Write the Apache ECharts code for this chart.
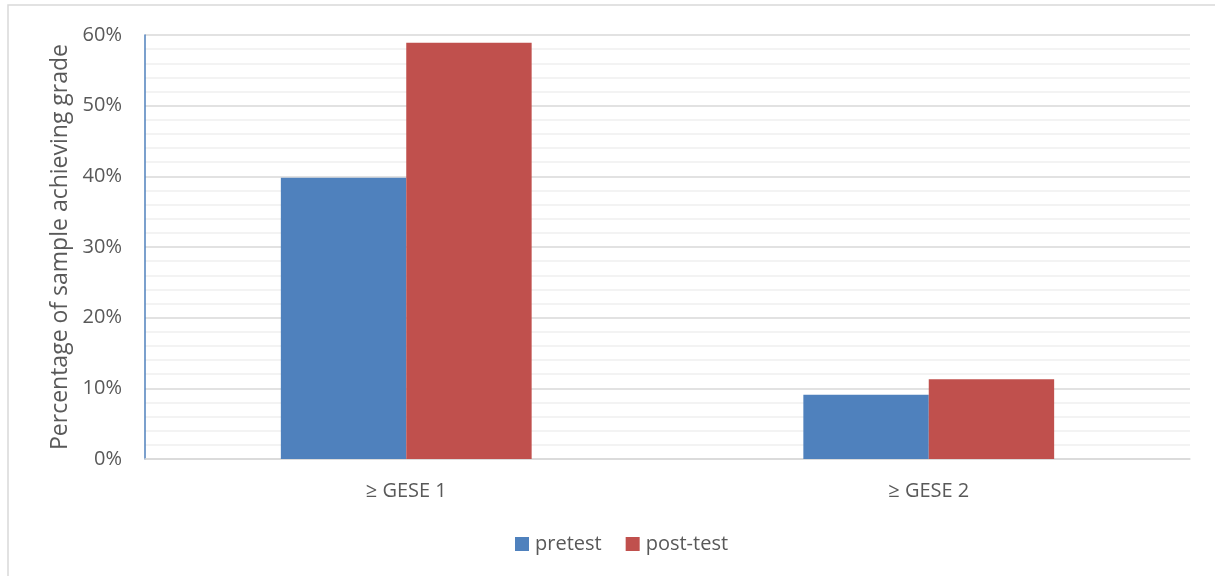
<!DOCTYPE html>
<html>
<head>
<meta charset="utf-8">
<script src="https://cdn.jsdelivr.net/npm/echarts@6/dist/echarts.min.js"></script>
<style>
html,body{margin:0;padding:0;background:#fff;}
#chart{width:1215px;height:576px;}
</style>
</head>
<body>
<div id="chart"></div>
<script>
const categories = ['≥ GESE 1', '≥ GESE 2'];
const pretest = [0.398, 0.091];
const posttest = [0.589, 0.113];
const yTicks = [0, 0.1, 0.2, 0.3, 0.4, 0.5, 0.6];

const FONT = 'Open Sans';
const chart = echarts.init(document.getElementById('chart'));
chart.setOption({
  animation: false,
  backgroundColor: '#fff',
  textStyle: { fontFamily: FONT },
  graphic: [{
    type: 'rect',
    shape: { x: 8, y: 5, width: 1220, height: 600 },
    style: { fill: 'none', stroke: '#d9d9d9', lineWidth: 1.5 },
    silent: true
  }],
  grid: { left: 145, right: 25, top: 35, bottom: 117 },
  legend: {
    bottom: 17,
    left: 510,
    itemWidth: 14, itemHeight: 14, itemGap: 24,
    icon: 'rect',
    textStyle: { fontFamily: FONT, fontSize: 20, color: '#595959', padding: [0, 0, 0, 1] },
    data: ['pretest', 'post-test']
  },
  xAxis: {
    type: 'category',
    data: categories,
    axisLine: { show: true, lineStyle: { color: '#d9d9d9', width: 1.5 } },
    axisTick: { show: false },
    axisLabel: { fontFamily: FONT, fontSize: 20, color: '#595959', margin: 22 }
  },
  yAxis: {
    type: 'value',
    min: 0, max: yTicks[yTicks.length - 1], interval: 0.1,
    name: 'Percentage of sample achieving grade',
    nameLocation: 'middle',
    nameGap: 72,
    nameTextStyle: { fontFamily: FONT, fontSize: 23, color: '#595959' },
    axisLine: { show: true, lineStyle: { color: '#4f81bd', width: 1.5 } },
    axisTick: { show: false },
    axisLabel: {
      fontFamily: FONT, fontSize: 20, color: '#595959', margin: 23,
      formatter: v => Math.round(v * 100) + '%'
    },
    splitLine: { show: true, lineStyle: { color: '#d9d9d9', width: 1.5 } },
    minorTick: { show: false, splitNumber: 5 },
    minorSplitLine: { show: true, lineStyle: { color: '#f0f0f0', width: 1.5 } }
  },
  series: [
    {
      name: 'pretest', type: 'bar', data: pretest,
      itemStyle: { color: '#4f81bd' },
      barWidth: '24%', barGap: '0%'
    },
    {
      name: 'post-test', type: 'bar', data: posttest,
      itemStyle: { color: '#c0504d' },
      barWidth: '24%', barGap: '0%'
    }
  ]
});
</script>
</body>
</html>
